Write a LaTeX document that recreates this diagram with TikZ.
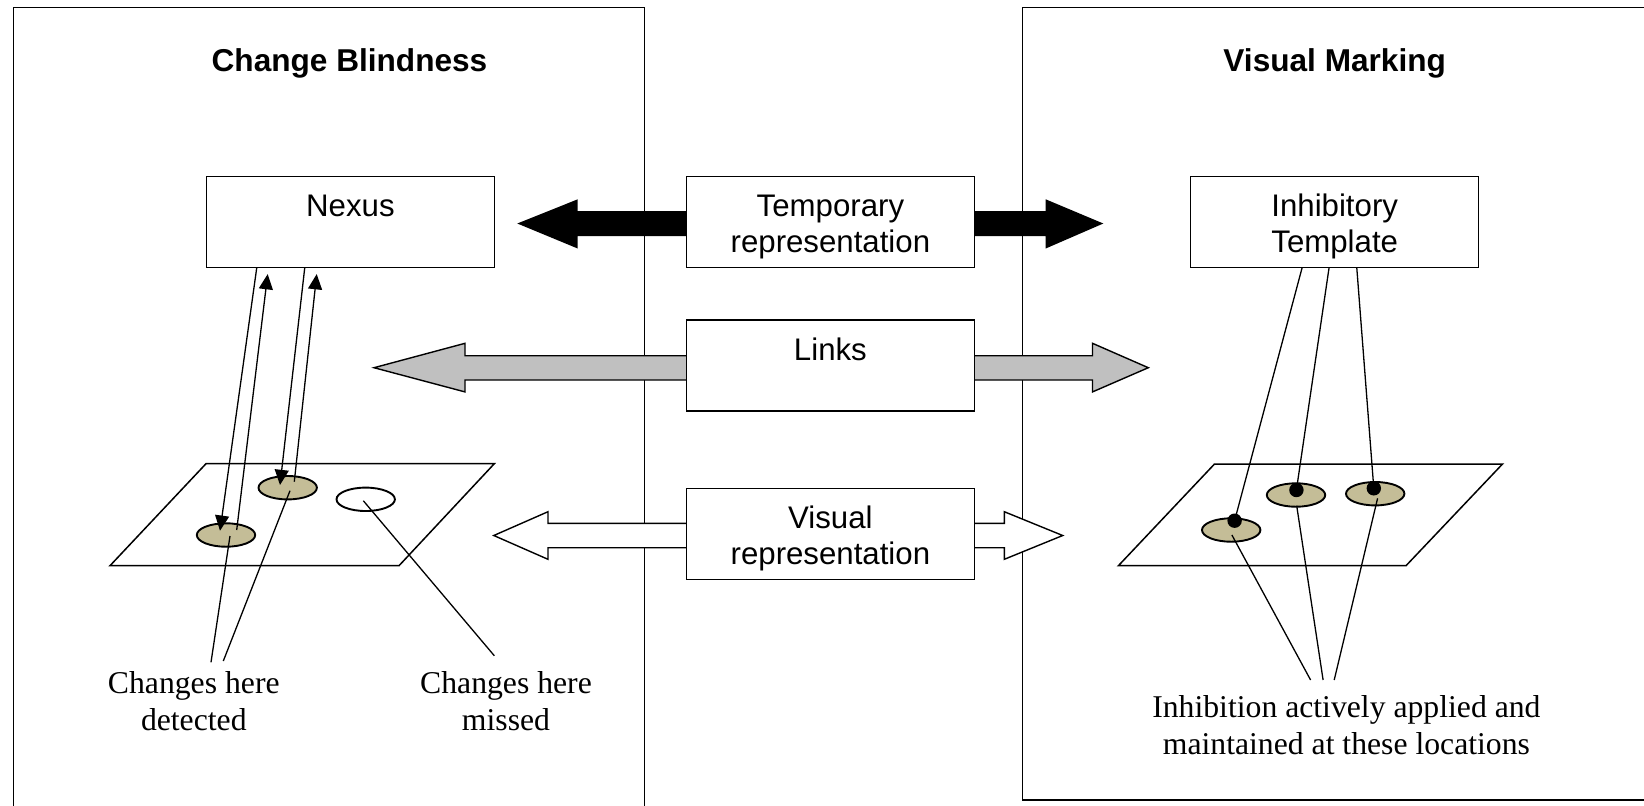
\documentclass[tikz,border=0pt]{standalone}
\usepackage{fontspec}
\setmainfont{Liberation Serif}
\setsansfont{Liberation Sans}
\usetikzlibrary{shapes.geometric,arrows.meta}
\definecolor{spottan}{RGB}{196,189,151}
\definecolor{linkgray}{RGB}{192,192,192}
\newcommand\sftxt{\sffamily\fontsize{15.6}{17.8}\selectfont}
\newcommand\sertxt{\rmfamily\fontsize{15.85}{18.4}\selectfont}
\newcommand\cbtitle{\sffamily\bfseries\fontsize{15.8}{17.8}\selectfont}
\newcommand\twoline[2]{\begin{tabular}[t]{@{}c@{}}#1\\#2\end{tabular}}
\begin{document}
\begin{tikzpicture}[x=0.5pt,y=-0.5pt,line width=0.7pt,
  box/.style={draw,fill=white,rectangle,minimum width=144pt,minimum height=45.5pt,inner sep=0pt,anchor=north west},
  boxtext/.style={anchor=base,label distance=-20.4pt,font=\sftxt,inner sep=0pt},
  spot/.style={ellipse,draw,line width=0.95pt,fill=spottan,minimum width=29.2pt,minimum height=11.7pt,inner sep=0pt},
  emptyspot/.style={spot,fill=white},
  dot/.style={circle,fill=black,minimum size=7.2pt,inner sep=0pt},
  plane/.style={draw,fill=white,line width=0.75pt},
  thin/.style={line width=0.65pt},
  thinarrow/.style={thin,-{Triangle[length=7.6pt,width=7pt]}},
  caption/.style={font=\sertxt,anchor=base,inner sep=0pt},
  heading/.style={font=\cbtitle,anchor=base,inner sep=0pt}]
\clip (0,0) rectangle (1644,805);
% panels
\draw (13.3,7.3) rectangle (644.3,840);
\draw (1022.3,7.3) rectangle (1700,800);
\node[heading] (cbt) at (349.5,71) {Change Blindness};
\node[heading] (vmt) at (1334.7,71) {Visual Marking};
% block arrows
\fill[black] (517.3,223.5) -- (577.7,199.3) -- (577.7,211) -- (1045.7,211) -- (1045.7,199.3)
  -- (1103.3,223.5) -- (1045.7,248.5) -- (1045.7,236) -- (577.7,236) -- (577.7,248.5) -- cycle;
\draw[fill=linkgray] (374,367.7) -- (465,343.3) -- (465,355.7) -- (1092.5,355.7) -- (1092.5,343.3)
  -- (1148.3,367.7) -- (1092.5,391.9) -- (1092.5,380) -- (465,380) -- (465,391.9) -- cycle;
\draw[fill=white] (493.8,535.5) -- (548,511.7) -- (548,523.3) -- (1004.3,523.3) -- (1004.3,511.7)
  -- (1062.7,535.5) -- (1004.3,559.3) -- (1004.3,547.7) -- (548,547.7) -- (548,559.3) -- cycle;
% boxes
\node[box,label={[boxtext]north:Nexus}] (nexus) at (205.7,175.7) {};
\node[box,label={[boxtext]north:{\twoline{Temporary}{representation}}}] (temp) at (685.7,175.7) {};
\node[box,label={[boxtext]north:{\twoline{Inhibitory}{Template}}}] (inhib) at (1190,175.7) {};
\node[box,label={[boxtext]north:Links}] (links) at (685.7,319.3) {};
\node[box,label={[boxtext]north:{\twoline{Visual}{representation}}}] (visrep) at (685.7,487.7) {};
% left plane
\draw[plane] (206,463.7) -- (494.3,463.7) -- (399,565.7) -- (110,565.7) -- cycle;
\node[spot] (le1) at (226,535) {};
\node[spot] (le2) at (287.7,487.7) {};
\node[emptyspot] (le3) at (365.7,499.3) {};
\draw[thinarrow] ([shift={(51,0)}]nexus.south west) -- ([shift={(-6,-4.3)}]le1.center);
\draw[thinarrow] ([shift={(10.7,-5)}]le1.center) -- ([shift={(62,6)}]nexus.south west);
\draw[thinarrow] ([shift={(99,0)}]nexus.south west) -- ([shift={(-7.7,-2.7)}]le2.center);
\draw[thinarrow] ([shift={(6.6,-6)}]le2.center) -- ([shift={(111,6)}]nexus.south west);
\node[caption] (det) at (193.8,693.3) {\twoline{Changes here}{detected}};
\node[caption] (mis) at (506,693.3) {\twoline{Changes here}{missed}};
\draw[thin] ([shift={(4,1)}]le1.center) -- ([shift={(17.2,-31)}]det.base);
\draw[thin] ([shift={(2.3,3)}]le2.center) -- ([shift={(29.5,-32.3)}]det.base);
\draw[thin] ([shift={(-2.4,1.4)}]le3.center) -- ([shift={(-11.7,-37.6)}]mis.base);
% right plane
\draw[plane] (1214.5,464) -- (1502.5,464) -- (1406,565.7) -- (1118.4,565.7) -- cycle;
\node[spot] (re1) at (1231.2,530) {};
\node[spot] (re2) at (1296,495) {};
\node[spot] (re3) at (1375.2,493.7) {};
\node[dot] (rd1) at (1234.6,520.7) {};
\node[dot] (rd2) at (1296.4,490) {};
\node[dot] (rd3) at (1373.8,488.3) {};
\draw[thin] ([shift={(112,0)}]inhib.south west) -- (rd1.center);
\draw[thin] ([shift={(139,0)}]inhib.south west) -- (rd2.center);
\draw[thin] ([shift={(166.8,0)}]inhib.south west) -- (rd3.center);
\node[caption] (inl) at (1346.4,717.7) {\twoline{Inhibition actively applied and}{maintained at these locations}};
\draw[thin] ([shift={(0.7,5)}]re1.center) -- ([shift={(-35.8,-37.7)}]inl.base);
\draw[thin] ([shift={(0.7,10.7)}]re2.center) -- ([shift={(-23.3,-37.7)}]inl.base);
\draw[thin] ([shift={(2.4,4.6)}]re3.center) -- ([shift={(-12.2,-37.7)}]inl.base);
\end{tikzpicture}
\end{document}
